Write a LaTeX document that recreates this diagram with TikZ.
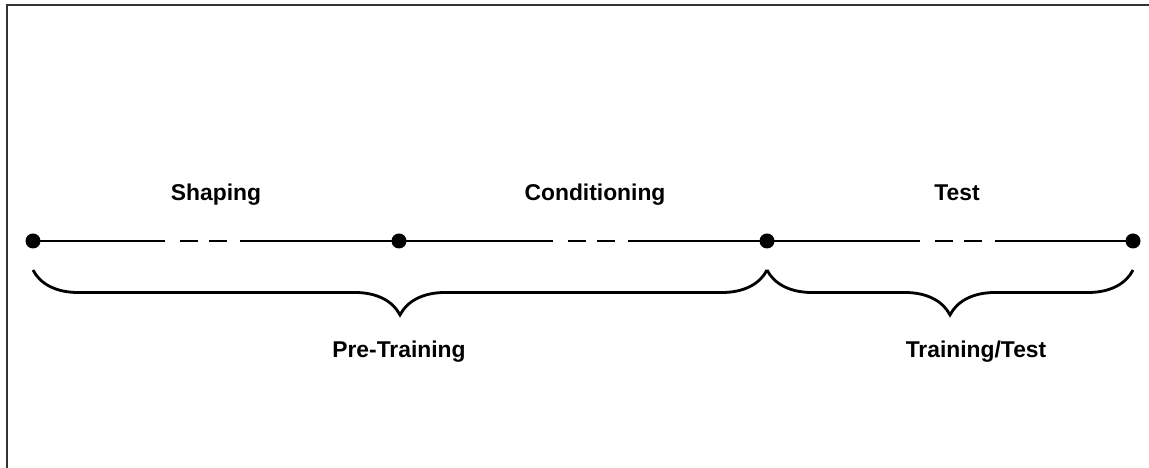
\documentclass[tikz,border=0pt]{standalone}
\usepackage{fontspec}
\setmainfont{Liberation Sans}
\usetikzlibrary{decorations.pathreplacing}

\tikzset{
    dot/.style={circle, fill=black, inner sep=0pt, minimum size=0.3cm},
    phase/.style={font=\fontsize{13}{15}\selectfont\bfseries, anchor=base},
    gapline/.style={line width=1.1pt, dash pattern=on #1 off 0.3cm on 0.36cm off 0.22cm on 0.36cm off 0.26cm on 4cm},
    brace/.style={line width=1.6pt, decorate, decoration={brace, mirror, amplitude=0.9cm}}
}

\begin{document}
\begin{tikzpicture}
                \useasboundingbox (0,0) rectangle (22.98,9.36);

                % Frame
                \draw[black!80, line width=1.1pt] (0.14,0) -- (0.14,9.26) -- (22.98,9.26);

                % Timeline points
                \node[dot] (p0) at (0.66,4.54) {};
                \node[dot] (p1) at (7.98,4.54) {};
                \node[dot] (p2) at (15.34,4.54) {};
                \node[dot] (p3) at (22.66,4.54) {};

                % Segments with a break in the middle
                \draw[gapline=2.64cm] (p0.center) -- (p1.center);
                \draw[gapline=3.08cm] (p1.center) -- (p2.center);
                \draw[gapline=3.06cm] (p2.center) -- (p3.center);

                % Phase names
                \node[phase] (shaping) at (4.32,5.34) {Shaping};
                \node[phase] (cond) at (11.9,5.34) {Conditioning};
                \node[phase] (test) at (19.14,5.34) {Test};

                % Braces
                \draw[brace] ([yshift=-0.58cm]p0.center) -- ([yshift=-0.58cm]p2.center);
                \draw[brace] ([yshift=-0.58cm]p2.center) -- ([yshift=-0.58cm]p3.center);

                \node[phase] (pre) at (7.98,2.2) {Pre-Training};
                \node[phase] (train) at (19.52,2.2) {Training/Test};
            \end{tikzpicture}
\end{document}
